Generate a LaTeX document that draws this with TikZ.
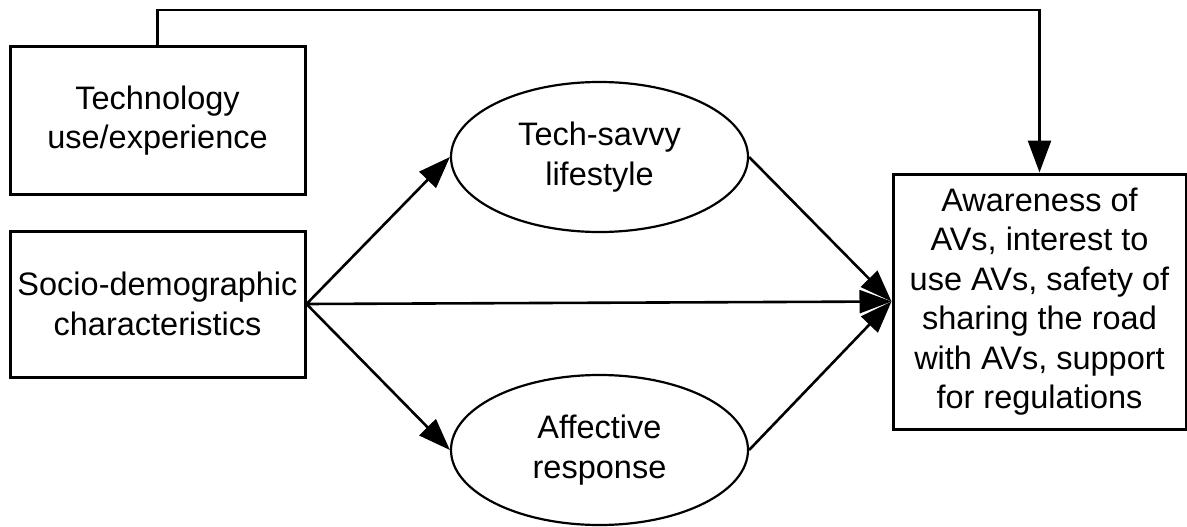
\documentclass[tikz,border=0pt]{standalone}
\usepackage{fontspec}
\setmainfont{Liberation Sans}
\usetikzlibrary{shapes.geometric,arrows.meta}
\tikzset{
  box/.style={draw, line width=3pt, rectangle, inner sep=0pt, align=center, font=\fontsize{32.5}{39.5}\selectfont},
  oval/.style={draw, line width=2.2pt, ellipse, inner sep=0pt, align=center, font=\fontsize{32.5}{39.5}\selectfont},
  conn/.style={line width=2.6pt, -{Triangle[length=32pt,width=23pt]}},
}
\begin{document}
\begin{tikzpicture}[x=1pt,y=-1pt]
\useasboundingbox (0,0) rectangle (1187,527);
\node[box, minimum width=295pt, minimum height=147pt] (tech) at (157.5,120.5) {Technology\\use/experience};
\node[box, minimum width=295pt, minimum height=146pt] (socio) at (157.5,304) {Socio-demographic\\characteristics};
\node[oval, minimum width=297pt, minimum height=150pt] (savvy) at (599.5,157) {Tech-savvy\\lifestyle};
\node[oval, minimum width=297pt, minimum height=150pt] (affect) at (599.5,450) {Affective\\response};
\node[box, minimum width=293pt, minimum height=255pt] (out) at (1039.5,301.5) {Awareness of\\AVs, interest to\\use AVs, safety of\\sharing the road\\with AVs, support\\for regulations};
\coordinate (topy) at (0,10);
\draw[conn] (tech.north) -- (tech.north |- topy) -| (out.north);
\draw[conn] (socio.east) -- (savvy.west);
\draw[conn] (socio.east) -- (affect.west);
\draw[conn] (socio.east) -- (out.west);
\draw[conn] (savvy.east) -- (out.west);
\draw[conn] (affect.east) -- (out.west);
\end{tikzpicture}
\end{document}
